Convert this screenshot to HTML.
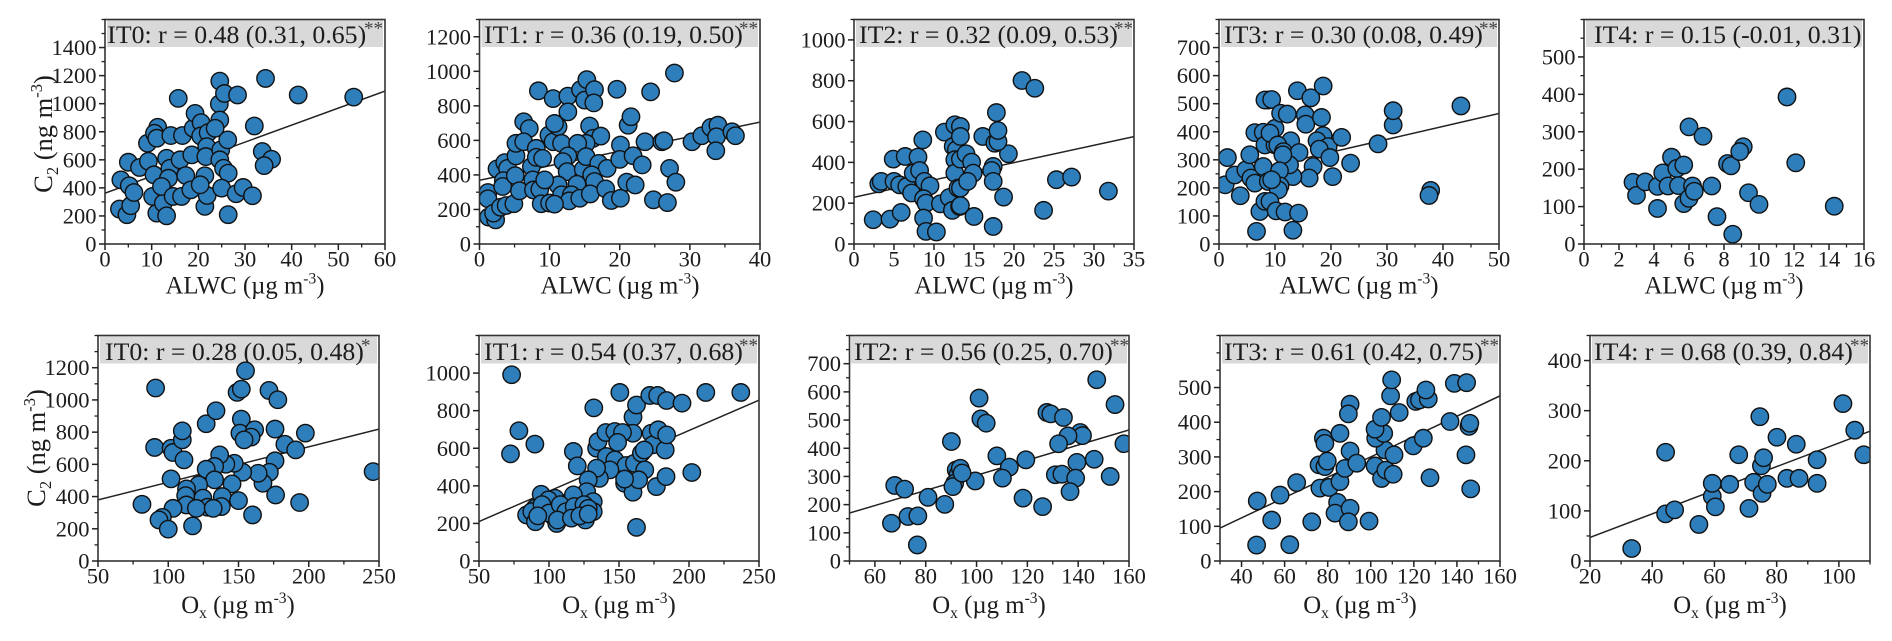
<!DOCTYPE html>
<html lang="en">
<head>
<meta charset="utf-8">
<title>C2 correlation with ALWC and Ox by IT class</title>
<style>
html,body{margin:0;padding:0;background:#fff;}
svg{display:block;font-family:"Liberation Serif",serif;filter:blur(.3px);}
.ttl{font-size:25.8px;fill:#1c1c1c;}
.stars{font-size:19px;fill:#444;}
.axt{font-size:24.8px;fill:#1c1c1c;text-anchor:middle;}
.ayt{font-size:26.5px;fill:#1c1c1c;text-anchor:middle;}
.sup{font-size:15.5px;}
.sub{font-size:15.5px;}
.ayt .sup,.ayt .sub{font-size:16.5px;}
.bar{fill:#d9d9d9;}
.tk{font-size:22.5px;fill:#1c1c1c;}
</style>
</head>
<body>
<svg id="chart" width="1892" height="641" viewBox="0 0 1892 641" xmlns="http://www.w3.org/2000/svg">
<rect width="1892" height="641" fill="#fff"/>

<g id="p0">
<rect class="bar" x="107" y="20" width="276" height="27"/>
<text class="ttl" x="107.3" y="43">IT0: r = 0.48 (0.31, 0.65)</text>
<text class="stars" x="364" y="34.5">**</text>
<text class="axt" x="245" y="293.5">ALWC (µg m<tspan class="sup" dy="-10">-3</tspan><tspan dy="10">)</tspan></text>
<text class="ayt" transform="translate(52,134) rotate(-90)">C<tspan class="sub" dy="6">2</tspan><tspan dy="-6"> (ng m</tspan><tspan class="sup" dy="-10">-3</tspan><tspan dy="10">)</tspan></text>
</g>
<g id="p1">
<rect class="bar" x="481.5" y="20" width="276.5" height="27"/>
<text class="ttl" x="484" y="43">IT1: r = 0.36 (0.19, 0.50)</text>
<text class="stars" x="739" y="34.5">**</text>
<text class="axt" x="620" y="293.5">ALWC (µg m<tspan class="sup" dy="-10">-3</tspan><tspan dy="10">)</tspan></text>
</g>
<g id="p2">
<rect class="bar" x="856" y="20" width="276" height="27"/>
<text class="ttl" x="859" y="43">IT2: r = 0.32 (0.09, 0.53)</text>
<text class="stars" x="1114" y="34.5">**</text>
<text class="axt" x="994" y="293.5">ALWC (µg m<tspan class="sup" dy="-10">-3</tspan><tspan dy="10">)</tspan></text>
</g>
<g id="p3">
<rect class="bar" x="1221" y="20" width="276" height="27"/>
<text class="ttl" x="1224" y="43">IT3: r = 0.30 (0.08, 0.49)</text>
<text class="stars" x="1479" y="34.5">**</text>
<text class="axt" x="1359" y="293.5">ALWC (µg m<tspan class="sup" dy="-10">-3</tspan><tspan dy="10">)</tspan></text>
</g>
<g id="p4">
<rect class="bar" x="1586" y="20" width="276" height="27"/>
<text class="ttl" x="1594" y="43">IT4: r = 0.15 (-0.01, 0.31)</text>
<text class="axt" x="1724" y="293.5">ALWC (µg m<tspan class="sup" dy="-10">-3</tspan><tspan dy="10">)</tspan></text>
</g>

<g id="p5">
<rect class="bar" x="100" y="336.5" width="277" height="27"/>
<text class="ttl" x="105" y="360">IT0: r = 0.28 (0.05, 0.48)</text>
<text class="stars" x="361" y="351.5">*</text>
<text class="axt" x="238" y="613">O<tspan class="sub" dy="5">x</tspan><tspan dy="-5"> (µg m</tspan><tspan class="sup" dy="-10">-3</tspan><tspan dy="10">)</tspan></text>
<text class="ayt" transform="translate(45,448) rotate(-90)">C<tspan class="sub" dy="6">2</tspan><tspan dy="-6"> (ng m</tspan><tspan class="sup" dy="-10">-3</tspan><tspan dy="10">)</tspan></text>
</g>
<g id="p6">
<rect class="bar" x="481" y="336.5" width="276" height="27"/>
<text class="ttl" x="484" y="360">IT1: r = 0.54 (0.37, 0.68)</text>
<text class="stars" x="739" y="351.5">**</text>
<text class="axt" x="619" y="613">O<tspan class="sub" dy="5">x</tspan><tspan dy="-5"> (µg m</tspan><tspan class="sup" dy="-10">-3</tspan><tspan dy="10">)</tspan></text>
</g>
<g id="p7">
<rect class="bar" x="851" y="336.5" width="276" height="27"/>
<text class="ttl" x="854" y="360">IT2: r = 0.56 (0.25, 0.70)</text>
<text class="stars" x="1110" y="351.5">**</text>
<text class="axt" x="989" y="613">O<tspan class="sub" dy="5">x</tspan><tspan dy="-5"> (µg m</tspan><tspan class="sup" dy="-10">-3</tspan><tspan dy="10">)</tspan></text>
</g>
<g id="p8">
<rect class="bar" x="1222" y="336.5" width="276" height="27"/>
<text class="ttl" x="1224" y="360">IT3: r = 0.61 (0.42, 0.75)</text>
<text class="stars" x="1480" y="351.5">**</text>
<text class="axt" x="1360" y="613">O<tspan class="sub" dy="5">x</tspan><tspan dy="-5"> (µg m</tspan><tspan class="sup" dy="-10">-3</tspan><tspan dy="10">)</tspan></text>
</g>
<g id="p9">
<rect class="bar" x="1592" y="336.5" width="276" height="27"/>
<text class="ttl" x="1594" y="360">IT4: r = 0.68 (0.39, 0.84)</text>
<text class="stars" x="1850" y="351.5">**</text>
<text class="axt" x="1730" y="613">O<tspan class="sub" dy="5">x</tspan><tspan dy="-5"> (µg m</tspan><tspan class="sup" dy="-10">-3</tspan><tspan dy="10">)</tspan></text>
</g>
</svg>

<script>
// ---- series values: [x, C2] pairs ----
const alwcIT0 = [[3.4,457],[3.1,249],[4.7,209],[5.5,273],[5,583],[5.2,415],[6.2,367],[7.4,545],[9.1,718],[9.3,590],[10.5,493],[10.2,339],[11.1,220],[11.3,832],[10.6,789],[11.1,754],[12.5,291],[13.2,201],[13.2,611],[13.9,540],[13.6,469],[12.1,410],[14.1,773],[15.7,1038],[16.6,773],[16.1,600],[18.6,635],[17.3,488],[14.6,339],[16.4,339],[18.4,386],[18.9,825],[19.3,931],[20.6,865],[20.5,770],[22.1,794],[21.8,694],[21.6,623],[21.4,486],[21.4,268],[21.9,346],[20.4,422],[24.5,998],[24.6,1161],[25.6,1073],[28.4,1062],[24.6,884],[23.6,825],[24.8,671],[26.3,742],[24.6,600],[25.4,540],[26.4,505],[25,398],[28.1,358],[29.6,403],[26.4,209],[31.6,344],[32,841],[33.7,659],[35.7,604],[34.1,559],[34.4,1180],[41.4,1062],[53.3,1047]];
const alwcIT1 = [[1.2,298],[1.2,262],[1.3,156],[2.3,140],[2,179],[3,213],[3.8,223],[4.9,233],[2.5,435],[3.6,471],[4,438],[3.4,367],[3.3,333],[5.1,396],[5.2,510],[5.7,308],[5.2,583],[6.3,708],[7.1,669],[6.3,592],[7.4,448],[7.6,371],[7.7,313],[8.6,317],[8.8,233],[8.4,887],[10.5,842],[8.1,554],[8.1,502],[9,496],[9.9,631],[10.5,592],[11.2,679],[10.7,698],[11.7,583],[12.6,856],[12.6,765],[14.4,894],[15.3,952],[15,833],[16.4,894],[16.3,817],[15.7,683],[16.2,612],[17.3,625],[15.2,583],[14,583],[12.6,510],[11.9,477],[12.5,419],[14.8,433],[15.2,506],[17,467],[18.2,438],[16,400],[16.4,362],[13.9,346],[11.2,342],[11.7,285],[13.1,285],[12.8,250],[14.3,265],[15.8,290],[18,319],[18.8,252],[20.1,265],[21,358],[22.2,342],[20.1,573],[20,490],[21.9,511],[23.2,458],[21.2,688],[21.6,737],[19.6,896],[24.4,881],[23.6,592],[24.8,256],[26,592],[9.3,371],[10,237],[10.7,231],[27.8,990],[27.1,438],[28,358],[26.8,240],[26.3,598],[30.3,592],[31.7,627],[33,675],[34,688],[33.8,621],[33.7,540],[36,650],[36.5,627]];
const alwcIT2 = [[2.4,119],[3.1,295],[3.4,307],[4.5,122],[4.9,416],[5,307],[5.7,290],[5.9,155],[6.4,429],[6.6,282],[7.2,250],[7.4,347],[8,426],[8.2,360],[8.6,510],[8.8,307],[9.5,285],[8.7,222],[9,200],[8.7,127],[9,62],[10.3,59],[10.8,197],[11.9,228],[12.3,165],[11.3,548],[12.6,584],[12.4,478],[12.8,462],[12.6,413],[12.6,347],[13,274],[13.2,184],[13.3,576],[13.3,527],[13.3,416],[13.3,274],[13.3,188],[14,442],[14.7,401],[14.9,347],[14.2,307],[15,135],[16.1,527],[17.4,86],[17.4,380],[17.2,360],[17.4,307],[18.7,230],[19.3,442],[17.8,644],[17.6,494],[18,502],[18,556],[21,801],[22.6,763],[23.7,165],[25.3,315],[27.2,328],[31.8,259]];
const alwcIT3 = [[1.5,308],[1.1,211],[2.8,246],[3.8,172],[4.8,264],[5.5,318],[5.7,235],[6.4,217],[6.4,397],[6.7,45],[7.3,116],[7.9,398],[8.2,353],[8.2,152],[7.9,276],[8.8,223],[8.8,513],[8.2,513],[9.4,515],[10,412],[11,466],[12.2,463],[14,546],[16.4,521],[18.6,563],[15.4,460],[15.5,427],[18.3,451],[12.8,368],[10,353],[9.1,395],[10.5,353],[11.5,329],[14.3,326],[18.6,386],[17.5,368],[19.5,347],[17.9,338],[21.9,380],[19.8,308],[28.4,357],[31.1,424],[31.1,475],[43.2,492],[37.8,191],[37.5,173],[23.5,288],[20.3,240],[16.8,276],[16.1,235],[13.2,240],[12.6,282],[11.4,318],[10.8,261],[10.9,207],[10.6,193],[9.4,229],[9.1,152],[10.2,118],[11.8,114],[14.2,110],[13.2,49]];
const alwcIT4 = [[2.8,165],[3,130],[3.5,166],[4.2,95],[4.2,154],[4.5,190],[4.8,155],[5,232],[5.3,202],[5.4,156],[5.7,211],[5.7,108],[6,122],[6.2,155],[6.3,141],[6,313],[6.8,288],[7.3,155],[7.6,73],[8.2,215],[8.4,209],[8.5,26],[9.1,260],[8.9,247],[9.4,137],[10,106],[11.6,393],[12.1,217],[14.3,101]];
const oxIT0 = [[91,1074],[90.3,705],[81.3,352],[102,700],[103.4,674],[110,752],[110,808],[111.2,628],[102,510],[127,852],[134,933],[149,1047],[152,1067],[155,1181],[171.7,1059],[178,1001],[152,881],[151,794],[161.5,815],[159,769],[154,752],[176,819],[183,725],[190.7,690],[197.6,794],[176,622],[172,551],[167.4,483],[164,545],[153,551],[145.4,479],[147,607],[141,601],[136.6,659],[133,587],[127,570],[133,504],[121.6,473],[113,448],[112.4,406],[124.7,390],[138.5,400],[112.9,348],[128,334],[120,327],[103.4,327],[137.8,338],[132,327],[150,375],[176.4,410],[193.5,363],[160,286],[95.8,271],[93.4,255],[100,198],[117.3,218],[245.8,555]];
const oxIT1 = [[73.3,991],[78.5,693],[72.5,570],[89.9,622],[132,815],[150.6,897],[160,766],[162.5,830],[172,881],[177.6,881],[160,680],[117.4,583],[120.2,506],[134,600],[135,636],[140.6,684],[147,689],[152.5,684],[149,631],[141,556],[147,538],[155,508],[161,520],[166,574],[168.4,485],[173,680],[174,618],[178,698],[143.5,485],[136,440],[134,494],[128,432],[126.9,369],[154,414],[160,366],[164,432],[176.7,396],[94.4,355],[104.3,334],[114.5,316],[131.6,316],[117.4,352],[99.6,325],[90,281],[96,272],[102,245],[109,236],[121,254],[131.6,263],[84,245],[87.7,263],[90.3,209],[105.5,200],[126,218],[162.5,179],[154,436],[183,591],[168,591],[184,854],[195,840],[212,897],[237,897],[184,671],[183.6,449],[202,471],[95,300],[100,255],[108,300],[112,262],[118,290],[125,300],[128,280],[92,240],[106,218],[116,228],[122,240],[128,250]];
const oxIT2 = [[67.8,268],[71.7,255],[80.9,226],[87.5,201],[90.1,424],[92,323],[92.7,306],[91.4,276],[90.7,264],[73,158],[76.9,160],[66.5,134],[76.7,57],[147.3,643],[154.5,555],[101,578],[101.7,504],[103.8,489],[127.7,527],[129.2,522],[134.2,509],[140.8,456],[141.7,445],[136,444],[132.3,416],[158,416],[108,373],[112.9,333],[119.4,359],[110.2,294],[99.5,284],[93.6,329],[94.3,312],[139.5,350],[146.3,361],[131,306],[133.6,308],[139,294],[152.6,300],[136.8,246],[118.3,223],[126,193]];
const oxIT3 = [[47.3,173],[47,46],[62.4,47],[54,118],[57.9,190],[65.6,226],[76.4,210],[80.7,212],[85.7,229],[72.6,113],[84.6,169],[83.4,138],[90.4,152],[89.6,113],[99.2,115],[76,277],[78.7,272],[79.8,288],[78,354],[78.7,339],[85.7,368],[90.4,452],[89.6,424],[90.4,317],[88,267],[93.5,282],[102,274],[105,238],[107,262],[110.4,250],[106.6,320],[110.8,306],[119.7,332],[124.4,354],[102.3,354],[106,368],[102,380],[105,414],[113.2,428],[109.2,476],[109.7,522],[120.9,460],[122.6,464],[126.7,467],[125.6,493],[138.8,512],[144.5,514],[136.8,402],[145.6,388],[146,397],[144.2,306],[127.5,240],[146.4,208]];
const oxIT4 = [[33.4,25],[44.3,94],[47.2,102],[44.3,217],[55,73],[59.3,129],[60.3,108],[59.3,155],[64.9,153],[67.8,212],[71.1,105],[72.6,157],[75.3,135],[77,153],[75.1,190],[75.8,206],[74.6,288],[80.1,247],[83.3,165],[86.3,233],[87.2,165],[93,155],[93,202],[101.3,314],[105.1,261],[108,212]];

// ---- fit lines: C2 at the left and right end of the x domain ----
const fitAlwcIT0 = [362,1090];
const fitAlwcIT1 = [369,706];
const fitAlwcIT2 = [229,526];
const fitAlwcIT3 = [235,465];
const fitOxIT0 = [379,819];
const fitOxIT1 = [210,856];
const fitOxIT2 = [170,465];
const fitOxIT3 = [95,476];
const fitOxIT4 = [47,259];

// ---- tick labels ----
const xTicksAlwcIT0 = [0,10,20,30,40,50,60];
const xTicksAlwcIT1 = [0,10,20,30,40];
const xTicksAlwcIT2 = [0,5,10,15,20,25,30,35];
const xTicksAlwcIT3 = [0,10,20,30,40,50];
const xTicksAlwcIT4 = [0,2,4,6,8,10,12,14,16];
const xTicksOxIT0 = [50,100,150,200,250];
const xTicksOxIT1 = [50,100,150,200,250];
const xTicksOxIT2 = [60,80,100,120,140,160];
const xTicksOxIT3 = [40,60,80,100,120,140,160];
const xTicksOxIT4 = [20,40,60,80,100];
const yTicks1400 = [0,200,400,600,800,1000,1200,1400];
const yTicks1200 = [0,200,400,600,800,1000,1200];
const yTicks1000 = [0,200,400,600,800,1000];
const yTicks700 = [0,100,200,300,400,500,600,700];
const yTicks500 = [0,100,200,300,400,500];
const yTicks400 = [0,100,200,300,400];

const panels = [
 {g:'p0',box:[105,385,19.5,244],xd:[0,60],yd:[0,1600],pts:alwcIT0,fit:fitAlwcIT0,xt:xTicksAlwcIT0,yt:yTicks1400,xm:5,ym:100},
 {g:'p1',box:[479.5,760,19.5,244],xd:[0,40],yd:[0,1300],pts:alwcIT1,fit:fitAlwcIT1,xt:xTicksAlwcIT1,yt:yTicks1200,xm:5,ym:100},
 {g:'p2',box:[854,1134,19.5,244],xd:[0,35],yd:[0,1100],pts:alwcIT2,fit:fitAlwcIT2,xt:xTicksAlwcIT2,yt:yTicks1000,xm:2.5,ym:100},
 {g:'p3',box:[1219,1499,19.5,244],xd:[0,50],yd:[0,800],pts:alwcIT3,fit:fitAlwcIT3,xt:xTicksAlwcIT3,yt:yTicks700,xm:5,ym:50},
 {g:'p4',box:[1584,1864,19.5,244],xd:[0,16],yd:[0,600],pts:alwcIT4,fit:null,xt:xTicksAlwcIT4,yt:yTicks500,xm:1,ym:50},
 {g:'p5',box:[98,379,335.5,561],xd:[50,250],yd:[0,1400],pts:oxIT0,fit:fitOxIT0,xt:xTicksOxIT0,yt:yTicks1200,xm:25,ym:100},
 {g:'p6',box:[479,759,335.5,561],xd:[50,250],yd:[0,1200],pts:oxIT1,fit:fitOxIT1,xt:xTicksOxIT1,yt:yTicks1000,xm:25,ym:100},
 {g:'p7',box:[849.5,1129,335.5,561],xd:[50,160],yd:[0,800],pts:oxIT2,fit:fitOxIT2,xt:xTicksOxIT2,yt:yTicks700,xm:10,ym:50},
 {g:'p8',box:[1220,1500,335.5,561],xd:[30,160],yd:[0,650],pts:oxIT3,fit:fitOxIT3,xt:xTicksOxIT3,yt:yTicks500,xm:10,ym:50},
 {g:'p9',box:[1590,1870,335.5,561],xd:[20,110],yd:[0,450],pts:oxIT4,fit:fitOxIT4,xt:xTicksOxIT4,yt:yTicks400,xm:10,ym:50}
];

const NS = 'http://www.w3.org/2000/svg';
function mk(parent, tag, attrs) {
  const el = document.createElementNS(NS, tag);
  for (const k in attrs) el.setAttribute(k, attrs[k]);
  parent.appendChild(el);
  return el;
}

const svgRoot = document.getElementById('chart');
const defs = mk(svgRoot, 'defs', {});

panels.forEach(function (p, idx) {
  const g = document.getElementById(p.g);
  const [l, r, t, b] = p.box;
  const xs = v => l + (v - p.xd[0]) / (p.xd[1] - p.xd[0]) * (r - l);
  const ys = v => b - (v - p.yd[0]) / (p.yd[1] - p.yd[0]) * (b - t);

  const clip = mk(defs, 'clipPath', {id: 'clip' + idx});
  mk(clip, 'rect', {x: l, y: t, width: r - l, height: b - t});

  const layer = mk(g, 'g', {'clip-path': 'url(#clip' + idx + ')'});
  
  

  if (p.fit) {
    const fit = mk(layer, 'line', {x1: xs(p.xd[0]), y1: ys(p.fit[0]), x2: xs(p.xd[1]), y2: ys(p.fit[1]), stroke: '#222', 'stroke-width': 1.5});
    
    
  }

  p.pts.forEach(function (d) {
    const c = mk(layer, 'circle', {cx: xs(d[0]), cy: ys(d[1]), r: 8.7, fill: '#2e7ebb', stroke: '#111', 'stroke-width': 1.4});
    
    
  });

  const frame = mk(g, 'rect', {x: l, y: t, width: r - l, height: b - t, fill: 'none', stroke: '#333', 'stroke-width': 1.6});
  
  

  // minor ticks
  for (let v = p.xd[0]; v <= p.xd[1] + 1e-9; v += p.xm) {
    if (p.xt.indexOf(v) >= 0) continue;
    const m = mk(g, 'line', {x1: xs(v), y1: b, x2: xs(v), y2: b + 3.5, stroke: '#222', 'stroke-width': 1.3});
    
    
  }
  for (let v = p.yd[0]; v <= p.yd[1] + 1e-9; v += p.ym) {
    if (p.yt.indexOf(v) >= 0) continue;
    const m = mk(g, 'line', {x1: l, y1: ys(v), x2: l - 3.5, y2: ys(v), stroke: '#222', 'stroke-width': 1.3});
    
    
  }

  // major ticks and labels
  p.xt.forEach(function (v) {
    const m = mk(g, 'line', {x1: xs(v), y1: b, x2: xs(v), y2: b + 6, stroke: '#222', 'stroke-width': 1.5});
    
    
    const lab = mk(g, 'text', {class: 'tk', x: xs(v), y: b + 22.5, 'text-anchor': 'middle'});
    lab.textContent = v;
    
    
  });
  p.yt.forEach(function (v) {
    const m = mk(g, 'line', {x1: l, y1: ys(v), x2: l - 6, y2: ys(v), stroke: '#222', 'stroke-width': 1.5});
    
    
    const lab = mk(g, 'text', {class: 'tk', x: l - 8.5, y: ys(v) + 7.5, 'text-anchor': 'end'});
    lab.textContent = v;
    
    
  });
});
</script>
</body>
</html>
